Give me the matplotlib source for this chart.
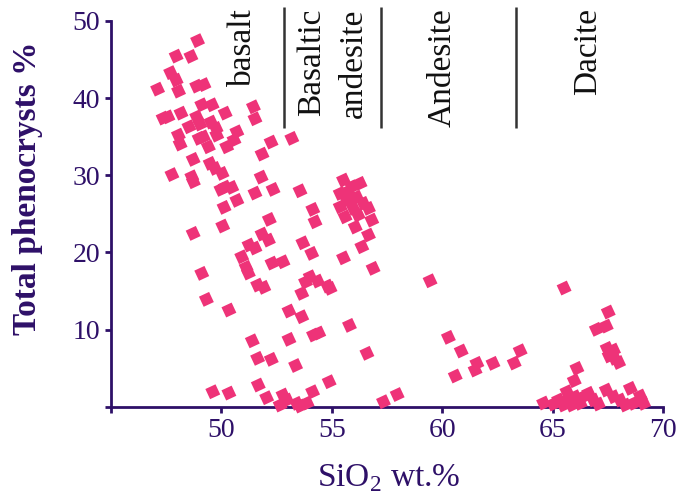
import matplotlib
matplotlib.use("Agg")
import matplotlib.pyplot as plt
from matplotlib.markers import MarkerStyle

plt.rcParams['font.family'] = ['Liberation Serif', 'DejaVu Serif']
plt.rcParams['mathtext.fontset'] = 'custom'
plt.rcParams['mathtext.rm'] = 'Liberation Serif'

# ---- data (SiO2 wt.%, total phenocrysts %) ----
sio2 = [
    48.92, 47.95, 48.62, 47.70, 47.95, 47.11, 48.06, 48.88, 49.21, 47.36,
    47.58, 48.17, 49.11, 49.58, 50.17, 51.45, 51.52, 48.88, 48.53, 49.03,
    49.53, 49.76, 49.18, 49.79, 50.70, 48.05, 48.13, 48.99, 49.41, 50.24,
    50.57, 52.25, 53.19, 51.84, 48.72, 49.49, 49.71, 50.03, 47.76, 48.66,
    48.73, 51.80, 50.17, 49.98, 50.47, 50.70, 50.12, 51.52, 52.34, 53.56,
    52.17, 54.14, 54.24, 50.06, 48.72, 51.84, 52.13, 51.25, 51.52, 53.69,
    54.09, 50.92, 51.12, 51.22, 52.29, 52.79, 49.11, 54.02, 53.81, 54.36,
    54.81, 54.92, 51.64, 51.92, 53.64, 49.32, 50.34, 53.06, 53.64, 54.17,
    54.41, 55.80, 51.40, 53.06, 51.64, 52.26, 56.59, 53.36, 54.88, 54.13,
    49.61, 50.34, 51.67, 52.05, 52.79, 52.97, 52.66, 53.41, 53.56, 53.88,
    57.34, 57.96,
    55.53, 55.38, 55.91, 56.28, 55.68, 56.13, 56.43, 55.98, 55.38, 56.66,
    56.81, 56.06, 56.66, 56.36, 55.53, 56.87, 55.74, 56.19, 55.60,
    59.45, 60.28, 60.86, 60.59, 61.57, 61.49, 62.30, 63.53, 63.26,
    65.52, 67.52, 67.43, 66.98, 67.47, 67.76, 67.56, 67.81, 67.99, 66.10,
    65.98, 64.59, 65.65, 65.27, 65.65, 66.02, 66.40, 66.63, 66.85, 66.25,
    65.49, 65.87, 67.43, 67.76, 68.06, 68.52, 68.97, 68.67, 68.29, 69.12,
    65.03, 67.07,
]
phenocrysts = [
    47.43, 45.43, 45.39, 43.29, 42.32, 41.15, 40.89, 41.54, 41.74, 37.40,
    37.56, 38.04, 39.12, 39.12, 38.04, 38.86, 37.31, 37.56, 36.27, 36.62,
    36.88, 36.06, 34.97, 35.19, 35.62, 35.19, 34.03, 34.77, 33.68, 33.68,
    34.55, 34.29, 34.77, 32.73, 32.05, 31.53, 30.88, 30.23, 30.08, 29.79,
    29.15, 29.75, 28.46, 28.16, 28.42, 26.74, 25.83, 27.68, 28.16, 27.98,
    24.27, 25.57, 23.96, 23.41, 22.46, 22.37, 21.59, 20.95, 20.56, 21.24,
    19.87, 19.43, 18.06, 17.32, 18.61, 18.78, 17.28, 16.84, 16.15, 16.28,
    15.63, 15.34, 15.76, 15.47, 14.69, 13.91, 12.53, 12.40, 11.66, 9.29,
    9.55, 10.54, 8.54, 8.73, 6.27, 6.14, 6.92, 5.34, 3.24, 1.94,
    1.94, 1.77, 2.81, 1.17, 1.52, 0.87, 0.22, 0.44, 0.09, 0.48,
    0.65, 1.58,
    29.37, 27.64, 28.50, 28.94, 26.78, 27.16, 26.35, 25.70, 25.91, 25.70,
    24.18, 23.28, 22.24, 20.73, 19.29, 17.93, 27.90, 24.83, 24.60,
    16.32, 8.99, 7.22, 3.98, 5.62, 4.75, 5.62, 7.25, 5.66,
    15.38, 12.27, 10.45, 10.03, 7.56, 7.34, 6.57, 6.27, 5.73, 4.97,
    3.37, 0.48, 1.94, 0.87, 0.87, 1.30, 1.30, 1.74, 0.87, 0.44,
    0.22, 0.22, 2.16, 1.30, 0.87, 2.38, 1.39, 0.44, 0.22, 0.44,
    0.35, 0.35,
]

boundaries = [52.84, 57.23, 63.34]
rock_labels = ['basalt', 'Basaltic', 'andesite', 'Andesite', 'Dacite']
rock_label_x = [50.98, 54.11, 55.97, 60.00, 66.61]

x_ticks = [45, 50, 55, 60, 65, 70]
x_ticklabels = ['', '50', '55', '60', '65', '70']
y_ticks = [0, 10, 20, 30, 40, 50]
y_ticklabels = ['', '10', '20', '30', '40', '50']

axis_color = '#2E1068'
marker_color = '#EE3378'

fig = plt.figure(figsize=(6.81, 4.96), dpi=100)
ax = fig.add_axes([0.163, 0.180, 0.8106, 0.778])

ax.scatter(sio2, phenocrysts, marker=MarkerStyle((4, 0, -20)), s=130,
           color=marker_color, edgecolors='none', zorder=3, clip_on=False)

ax.set_xlim(45, 70)
ax.set_ylim(0, 50)
ax.set_xticks(x_ticks)
ax.set_xticklabels(x_ticklabels)
ax.set_yticks(y_ticks)
ax.set_yticklabels(y_ticklabels)

for side in ['top', 'right']:
    ax.spines[side].set_visible(False)
for side in ['left', 'bottom']:
    ax.spines[side].set_color(axis_color)
    ax.spines[side].set_linewidth(2.0)

ax.tick_params(axis='both', direction='out', length=4, width=2,
               color=axis_color, labelcolor=axis_color, labelsize=20)
ax.tick_params(axis='x', pad=4)
ax.tick_params(axis='y', pad=4)

for b in boundaries:
    ax.plot([b, b], [36.1, 51.8], color='#333333', lw=1.8, clip_on=False,
            solid_capstyle='butt')

for lbl, lx in zip(rock_labels, rock_label_x):
    ax.text(lx, 51.6, lbl, rotation=90, ha='center', va='top',
            fontsize=24, color='#111111', clip_on=False)

fig.text(28 / 681, 1 - 188 / 496, 'Total phenocrysts %', rotation=90,
         ha='center', va='center', fontsize=24, fontweight='bold',
         color=axis_color)
fig.text(389 / 681, 1 - 478 / 496, r'SiO$_\mathregular{2}$ wt.%',
         ha='center', va='center', fontsize=24, color=axis_color)

fig.savefig('out.png', dpi=100)
